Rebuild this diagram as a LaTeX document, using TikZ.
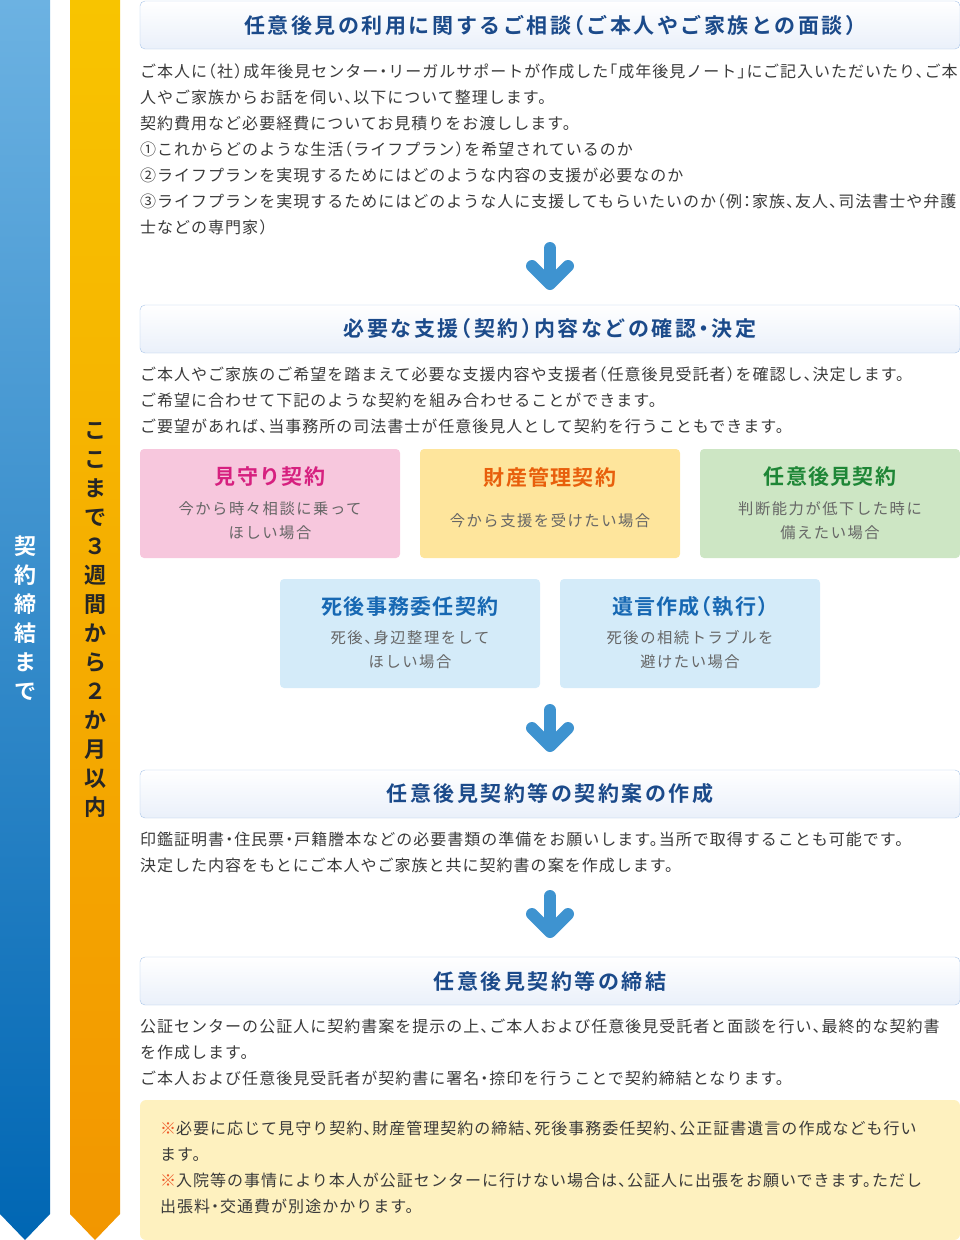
\documentclass[tikz,border=0pt]{standalone}
\usepackage{fontspec}
\usepackage{xcolor}
\usepackage{tikz}
\usetikzlibrary{positioning,calc}
\setmainfont{Noto Sans CJK JP}[BoldFont={Noto Sans CJK JP Bold}]
\newfontfamily\jpbody{Noto Sans CJK JP}[LetterSpace=6.3,RawFeature=+halt]
\newfontfamily\jphead{Noto Sans CJK JP Bold}[LetterSpace=12,RawFeature=+halt]
\newfontfamily\jpsub{Noto Sans CJK JP}[LetterSpace=10,RawFeature=+halt]
\newfontfamily\jpktitle{Noto Sans CJK JP Bold}[LetterSpace=6,RawFeature=+halt]
\newfontfamily\jpside{Noto Sans CJK JP Bold}

\definecolor{inkK}{HTML}{3A3A3A}
\definecolor{inkS}{HTML}{666666}
\definecolor{cNavy}{HTML}{1B4A8A}
\definecolor{lnBlue}{HTML}{A9C5E8}
\definecolor{hdBot}{HTML}{EAF0FA}
\definecolor{cArrow}{HTML}{3E93D0}
\definecolor{barBlueT}{HTML}{6CB2E2}
\definecolor{barBlueB}{HTML}{0066B3}
\definecolor{barYelT}{HTML}{F8C400}
\definecolor{barYelB}{HTML}{F29600}
\definecolor{lPink}{HTML}{F7C7DD}
\definecolor{cPink}{HTML}{D6207F}
\definecolor{lYel}{HTML}{FEE59C}
\definecolor{cOrange}{HTML}{E85F0C}
\definecolor{lGreen}{HTML}{CDE6C4}
\definecolor{cGreen}{HTML}{1E8636}
\definecolor{lSky}{HTML}{D4EBF9}
\definecolor{cBlue}{HTML}{1768B3}
\definecolor{lNote}{HTML}{FEF1BF}
\definecolor{cMark}{HTML}{EE5A2A}

\tikzset{
  headbox/.style={draw=lnBlue, top color=white, bottom color=hdBot,
    rounded corners=5pt, minimum width=820, minimum height=48,
    font=\jphead\fontsize{21}{24}\selectfont, text=cNavy},
  bodytext/.style={anchor=north west, inner sep=0pt, align=left,
    font=\jpbody\fontsize{16}{26}\selectfont, text=inkK},
  kbox/.style={rounded corners=4pt, minimum width=260, minimum height=109,
    inner sep=0pt},
  ktitle/.style={font=\jpktitle\fontsize{21}{24}\selectfont, inner sep=0pt},
  ksub/.style={font=\jpsub\fontsize{15.3}{24}\selectfont, text=inkS,
    align=center, inner sep=0pt},
  flowarr/.style={draw=cArrow, line width=12pt, line cap=round,
    line join=round},
  sidetext/.style={font=\jpside\fontsize{22}{29}\selectfont, align=center,
    inner sep=0pt}
}
\newcommand\flowarrow[1]{%
  \draw[flowarr] ($(#1)+(0,6)$) -- ($(#1)+(0,38)$);
  \draw[flowarr] ($(#1)+(-18,24)$) -- ($(#1)+(0,42)$) -- ($(#1)+(18,24)$);}

\begin{document}
\begin{tikzpicture}[x=1pt, y=-1pt]
  \useasboundingbox (0,0) rectangle (960,1240);

  % side bars
  \shade[top color=barBlueT, bottom color=barBlueB]
    (0,0) -- (50,0) -- (50,1214) -- (25,1240) -- (0,1214) -- cycle;
  \shade[top color=barYelT, bottom color=barYelB]
    (70,0) -- (120,0) -- (120,1214) -- (95,1240) -- (70,1214) -- cycle;
  \node[sidetext, text=white] (untilsign) at (25,618)
    {契\\約\\締\\結\\ま\\で};
  \node[sidetext, text=black!85] (period) at (95,620)
    {こ\\こ\\ま\\で\\３\\週\\間\\か\\ら\\２\\か\\月\\以\\内};

  % step 1
  \node[headbox] (head1) at (550,25)
    {任意後見の利用に関するご相談（ご本人やご家族との面談）};
  \node[bodytext] (body1) at (140,64) {%
    ご本人に（社）成年後見センター・リーガルサポートが作成した「成年後見ノート」にご記入いただいたり、ご本\\
    人やご家族からお話を伺い、以下について整理します。\\
    契約費用など必要経費についてお見積りをお渡しします。\\
    ①これからどのような生活（ライフプラン）を希望されているのか\\
    ②ライフプランを実現するためにはどのような内容の支援が必要なのか\\
    ③ライフプランを実現するためにはどのような人に支援してもらいたいのか（例：家族、友人、司法書士や弁護\\
    士などの専門家）};
  \coordinate (arr1) at (550,242);
  \flowarrow{arr1}

  % step 2
  \node[headbox] (head2) at (550,329)
    {必要な支援（契約）内容などの確認・決定};
  \node[bodytext] (body2) at (140,367) {%
    ご本人やご家族のご希望を踏まえて必要な支援内容や支援者（任意後見受託者）を確認し、決定します。\\
    ご希望に合わせて下記のような契約を組み合わせることができます。\\
    ご要望があれば、当事務所の司法書士が任意後見人として契約を行うこともできます。};

  \node[kbox, fill=lPink] (mimamori) at (270,503.5) {};
  \node[kbox, fill=lYel] (zaisan) at (550,503.5) {};
  \node[kbox, fill=lGreen] (nini) at (830,503.5) {};
  \node[kbox, fill=lSky] (shigo) at (410,633.5) {};
  \node[kbox, fill=lSky] (yuigon) at (690,633.5) {};

  \node[ktitle, text=cPink] at ($(mimamori.center)+(0,-26.5)$) {見守り契約};
  \node[ksub] at ($(mimamori.center)+(0,17.5)$) {今から時々相談に乗って\\ほしい場合};
  \node[ktitle, text=cOrange] at ($(zaisan.center)+(0,-26.5)$) {財産管理契約};
  \node[ksub] at ($(zaisan.center)+(0,17.5)$) {今から支援を受けたい場合};
  \node[ktitle, text=cGreen] at ($(nini.center)+(0,-26.5)$) {任意後見契約};
  \node[ksub] at ($(nini.center)+(0,17.5)$) {判断能力が低下した時に\\備えたい場合};
  \node[ktitle, text=cBlue] at ($(shigo.center)+(0,-26.5)$) {死後事務委任契約};
  \node[ksub] at ($(shigo.center)+(0,16.5)$) {死後、身辺整理をして\\ほしい場合};
  \node[ktitle, text=cBlue] at ($(yuigon.center)+(0,-26.5)$) {遺言作成（執行）};
  \node[ksub] at ($(yuigon.center)+(0,16.5)$) {死後の相続トラブルを\\避けたい場合};
  \coordinate (arr2) at (550,704);
  \flowarrow{arr2}

  % step 3
  \node[headbox] (head3) at (550,794)
    {任意後見契約等の契約案の作成};
  \node[bodytext] (body3) at (140,832) {%
    印鑑証明書・住民票・戸籍謄本などの必要書類の準備をお願いします。当所で取得することも可能です。\\
    決定した内容をもとにご本人やご家族と共に契約書の案を作成します。};
  \coordinate (arr3) at (550,890);
  \flowarrow{arr3}

  % step 4
  \node[headbox] (head4) at (550,981)
    {任意後見契約等の締結};
  \node[bodytext] (body4) at (140,1019) {%
    公証センターの公証人に契約書案を提示の上、ご本人および任意後見受託者と面談を行い、最終的な契約書\\
    を作成します。\\
    ご本人および任意後見受託者が契約書に署名・捺印を行うことで契約締結となります。};

  \node[kbox, fill=lNote, minimum width=820, minimum height=140,
        rounded corners=6pt] (note) at (550,1170) {};
  \node[bodytext] (notetext) at (160,1121) {%
    \textcolor{cMark}{※}必要に応じて見守り契約、財産管理契約の締結、死後事務委任契約、公正証書遺言の作成なども行い\\
    ます。\\
    \textcolor{cMark}{※}入院等の事情により本人が公証センターに行けない場合は、公証人に出張をお願いできます。ただし\\
    出張料・交通費が別途かかります。};
\end{tikzpicture}
\end{document}
